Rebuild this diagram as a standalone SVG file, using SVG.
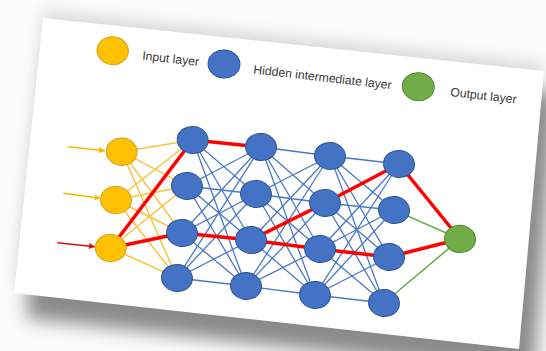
<svg xmlns="http://www.w3.org/2000/svg" width="546" height="351" viewBox="0 0 546 351">
<defs>
<filter id="sh1" x="-20%" y="-20%" width="140%" height="140%"><feGaussianBlur stdDeviation="9"/></filter>
<filter id="sh2" x="-20%" y="-20%" width="140%" height="140%"><feGaussianBlur stdDeviation="7"/></filter>
<marker id="ay" viewBox="0 0 10 10" refX="10" refY="5" markerWidth="7" markerHeight="6" markerUnits="userSpaceOnUse" orient="auto"><path d="M0,0 L10,5 L0,10 z" fill="#f5b800"/></marker>
<marker id="ar" viewBox="0 0 10 10" refX="10" refY="5" markerWidth="7" markerHeight="6" markerUnits="userSpaceOnUse" orient="auto"><path d="M0,0 L10,5 L0,10 z" fill="#d81010"/></marker>
<style>
.inp{fill:#ffc000;stroke:#d1a422;stroke-width:1}
.hid{fill:#4472c4;stroke:#2f5597;stroke-width:1}
.out{fill:#70ad47;stroke:#548235;stroke-width:1}
.ly{stroke:#f7c335;stroke-width:1.4}
.lb{stroke:#4a78c8;stroke-width:1.3}
.lr{stroke:#ff0000;stroke-width:3.5;stroke-linecap:round}
.lg{stroke:#70ad47;stroke-width:1.6}
.arr-y{stroke:#f5b800;stroke-width:1.6}
.arr-r{stroke:#d81010;stroke-width:1.6}
text{font-family:"Liberation Sans",Arial,sans-serif;font-size:12.2px;fill:#3a3a3a}
</style>
</defs>
<rect width="546" height="351" fill="#fbfbfb"/>
<g id="page-shadow">
<polygon points="43,10 544,63 519,341 14,285" fill="#dcdcdc" filter="url(#sh2)"/>
<polygon points="55,40 556,93 534,375 26,318" fill="#8a8a8a" filter="url(#sh1)"/>
</g>
<polygon id="page" points="43,18 544,71 519,349 14,293" fill="#ffffff"/>

<g id="legend">
<g id="legend-input"><ellipse class="inp" cx="112.7" cy="50.7" rx="15.7" ry="14" transform="rotate(6.5 112.7 50.7)"/><text x="142" y="59.5" transform="rotate(6.5 142 59.5)">Input layer</text></g>
<g id="legend-hidden"><ellipse class="hid" cx="224" cy="64" rx="16" ry="14" transform="rotate(6.5 224 64)"/><text x="253" y="73.5" transform="rotate(6.5 253 73.5)">Hidden intermediate layer</text></g>
<g id="legend-output"><ellipse class="out" cx="418.3" cy="86.7" rx="16" ry="14" transform="rotate(6.5 418.3 86.7)"/><text x="450" y="96" transform="rotate(6.5 450 96)">Output layer</text></g>
</g>

<g id="connectors" fill="none">
<g id="input-arrows">
<line class="arr-y" x1="68.3" y1="146.7" x2="105" y2="150.7" marker-end="url(#ay)"/>
<line class="arr-y" x1="63.3" y1="193.3" x2="100.7" y2="198.3" marker-end="url(#ay)"/>
<line class="arr-r" x1="57.3" y1="242.7" x2="95" y2="246.7" marker-end="url(#ar)"/>
</g>
<g id="in-h1">
<line class="ly" x1="121.7" y1="151.7" x2="192.7" y2="140"/>
<line class="ly" x1="121.7" y1="151.7" x2="187" y2="186"/>
<line class="ly" x1="121.7" y1="151.7" x2="182" y2="233"/>
<line class="ly" x1="121.7" y1="151.7" x2="177" y2="278"/>
<line class="ly" x1="116" y1="200" x2="192.7" y2="140"/>
<line class="ly" x1="116" y1="200" x2="187" y2="186"/>
<line class="ly" x1="116" y1="200" x2="182" y2="233"/>
<line class="ly" x1="116" y1="200" x2="177" y2="278"/>
<line class="ly" x1="110.7" y1="248" x2="192.7" y2="140"/>
<line class="ly" x1="110.7" y1="248" x2="187" y2="186"/>
<line class="ly" x1="110.7" y1="248" x2="182" y2="233"/>
<line class="ly" x1="110.7" y1="248" x2="177" y2="278"/>
</g>
<g id="h1-h2">
<line class="lb" x1="192.7" y1="140" x2="261" y2="147"/><line class="lb" x1="192.7" y1="140" x2="256" y2="194"/><line class="lb" x1="192.7" y1="140" x2="251" y2="240"/><line class="lb" x1="192.7" y1="140" x2="246" y2="286"/>
<line class="lb" x1="187" y1="186" x2="261" y2="147"/><line class="lb" x1="187" y1="186" x2="256" y2="194"/><line class="lb" x1="187" y1="186" x2="251" y2="240"/><line class="lb" x1="187" y1="186" x2="246" y2="286"/>
<line class="lb" x1="182" y1="233" x2="261" y2="147"/><line class="lb" x1="182" y1="233" x2="256" y2="194"/><line class="lb" x1="182" y1="233" x2="251" y2="240"/><line class="lb" x1="182" y1="233" x2="246" y2="286"/>
<line class="lb" x1="177" y1="278" x2="261" y2="147"/><line class="lb" x1="177" y1="278" x2="256" y2="194"/><line class="lb" x1="177" y1="278" x2="251" y2="240"/><line class="lb" x1="177" y1="278" x2="246" y2="286"/>
</g>
<g id="h2-h3">
<line class="lb" x1="261" y1="147" x2="330" y2="156"/><line class="lb" x1="261" y1="147" x2="325" y2="203"/><line class="lb" x1="261" y1="147" x2="320" y2="249"/><line class="lb" x1="261" y1="147" x2="315" y2="295"/>
<line class="lb" x1="256" y1="194" x2="330" y2="156"/><line class="lb" x1="256" y1="194" x2="325" y2="203"/><line class="lb" x1="256" y1="194" x2="320" y2="249"/><line class="lb" x1="256" y1="194" x2="315" y2="295"/>
<line class="lb" x1="251" y1="240" x2="330" y2="156"/><line class="lb" x1="251" y1="240" x2="325" y2="203"/><line class="lb" x1="251" y1="240" x2="320" y2="249"/><line class="lb" x1="251" y1="240" x2="315" y2="295"/>
<line class="lb" x1="246" y1="286" x2="330" y2="156"/><line class="lb" x1="246" y1="286" x2="325" y2="203"/><line class="lb" x1="246" y1="286" x2="320" y2="249"/><line class="lb" x1="246" y1="286" x2="315" y2="295"/>
</g>
<g id="h3-h4">
<line class="lb" x1="330" y1="156" x2="399" y2="164"/><line class="lb" x1="330" y1="156" x2="394" y2="210"/><line class="lb" x1="330" y1="156" x2="389" y2="257"/><line class="lb" x1="330" y1="156" x2="384" y2="303"/>
<line class="lb" x1="325" y1="203" x2="399" y2="164"/><line class="lb" x1="325" y1="203" x2="394" y2="210"/><line class="lb" x1="325" y1="203" x2="389" y2="257"/><line class="lb" x1="325" y1="203" x2="384" y2="303"/>
<line class="lb" x1="320" y1="249" x2="399" y2="164"/><line class="lb" x1="320" y1="249" x2="394" y2="210"/><line class="lb" x1="320" y1="249" x2="389" y2="257"/><line class="lb" x1="320" y1="249" x2="384" y2="303"/>
<line class="lb" x1="315" y1="295" x2="399" y2="164"/><line class="lb" x1="315" y1="295" x2="394" y2="210"/><line class="lb" x1="315" y1="295" x2="389" y2="257"/><line class="lb" x1="315" y1="295" x2="384" y2="303"/>
</g>
<g id="h4-out">
<line class="lg" x1="394" y1="210" x2="460" y2="239"/>
<line class="lg" x1="384" y1="303" x2="460" y2="239"/>
</g>
<g id="active-path">
<line class="lr" x1="110.7" y1="248" x2="192.7" y2="140"/>
<line class="lr" x1="110.7" y1="248" x2="182" y2="233"/>
<line class="lr" x1="192.7" y1="140" x2="261" y2="147"/>
<line class="lr" x1="182" y1="233" x2="251" y2="240"/>
<line class="lr" x1="251" y1="240" x2="325" y2="203"/>
<line class="lr" x1="251" y1="240" x2="320" y2="249"/>
<line class="lr" x1="325" y1="203" x2="399" y2="164"/>
<line class="lr" x1="320" y1="249" x2="389" y2="257"/>
<line class="lr" x1="399" y1="164" x2="460" y2="239"/>
<line class="lr" x1="389" y1="257" x2="460" y2="239"/>
</g>
</g>

<g id="input-layer">
<g id="in1"><ellipse class="inp" cx="121.7" cy="151.7" rx="15.5" ry="13.7" transform="rotate(6.5 121.7 151.7)"/></g>
<g id="in2"><ellipse class="inp" cx="116" cy="200" rx="15.5" ry="13.7" transform="rotate(6.5 116 200)"/></g>
<g id="in3"><ellipse class="inp" cx="110.7" cy="248" rx="15.5" ry="13.7" transform="rotate(6.5 110.7 248)"/></g>
</g>
<g id="hidden-1">
<g id="h11"><ellipse class="hid" cx="192.7" cy="140" rx="15.5" ry="13.5" transform="rotate(6.5 192.7 140)"/></g>
<g id="h12"><ellipse class="hid" cx="187" cy="186" rx="15.5" ry="13.5" transform="rotate(6.5 187 186)"/></g>
<g id="h13"><ellipse class="hid" cx="182" cy="233" rx="15.5" ry="13.5" transform="rotate(6.5 182 233)"/></g>
<g id="h14"><ellipse class="hid" cx="177" cy="278" rx="15.5" ry="13.5" transform="rotate(6.5 177 278)"/></g>
</g>
<g id="hidden-2">
<g id="h21"><ellipse class="hid" cx="261" cy="147" rx="15.5" ry="13.5" transform="rotate(6.5 261 147)"/></g>
<g id="h22"><ellipse class="hid" cx="256" cy="194" rx="15.5" ry="13.5" transform="rotate(6.5 256 194)"/></g>
<g id="h23"><ellipse class="hid" cx="251" cy="240" rx="15.5" ry="13.5" transform="rotate(6.5 251 240)"/></g>
<g id="h24"><ellipse class="hid" cx="246" cy="286" rx="15.5" ry="13.5" transform="rotate(6.5 246 286)"/></g>
</g>
<g id="hidden-3">
<g id="h31"><ellipse class="hid" cx="330" cy="156" rx="15.5" ry="13.5" transform="rotate(6.5 330 156)"/></g>
<g id="h32"><ellipse class="hid" cx="325" cy="203" rx="15.5" ry="13.5" transform="rotate(6.5 325 203)"/></g>
<g id="h33"><ellipse class="hid" cx="320" cy="249" rx="15.5" ry="13.5" transform="rotate(6.5 320 249)"/></g>
<g id="h34"><ellipse class="hid" cx="315" cy="295" rx="15.5" ry="13.5" transform="rotate(6.5 315 295)"/></g>
</g>
<g id="hidden-4">
<g id="h41"><ellipse class="hid" cx="399" cy="164" rx="15.5" ry="13.5" transform="rotate(6.5 399 164)"/></g>
<g id="h42"><ellipse class="hid" cx="394" cy="210" rx="15.5" ry="13.5" transform="rotate(6.5 394 210)"/></g>
<g id="h43"><ellipse class="hid" cx="389" cy="257" rx="15.5" ry="13.5" transform="rotate(6.5 389 257)"/></g>
<g id="h44"><ellipse class="hid" cx="384" cy="303" rx="15.5" ry="13.5" transform="rotate(6.5 384 303)"/></g>
</g>
<g id="output-layer">
<g id="o1"><ellipse class="out" cx="460" cy="239" rx="15.5" ry="13.7" transform="rotate(6.5 460 239)"/></g>
</g>
</svg>
